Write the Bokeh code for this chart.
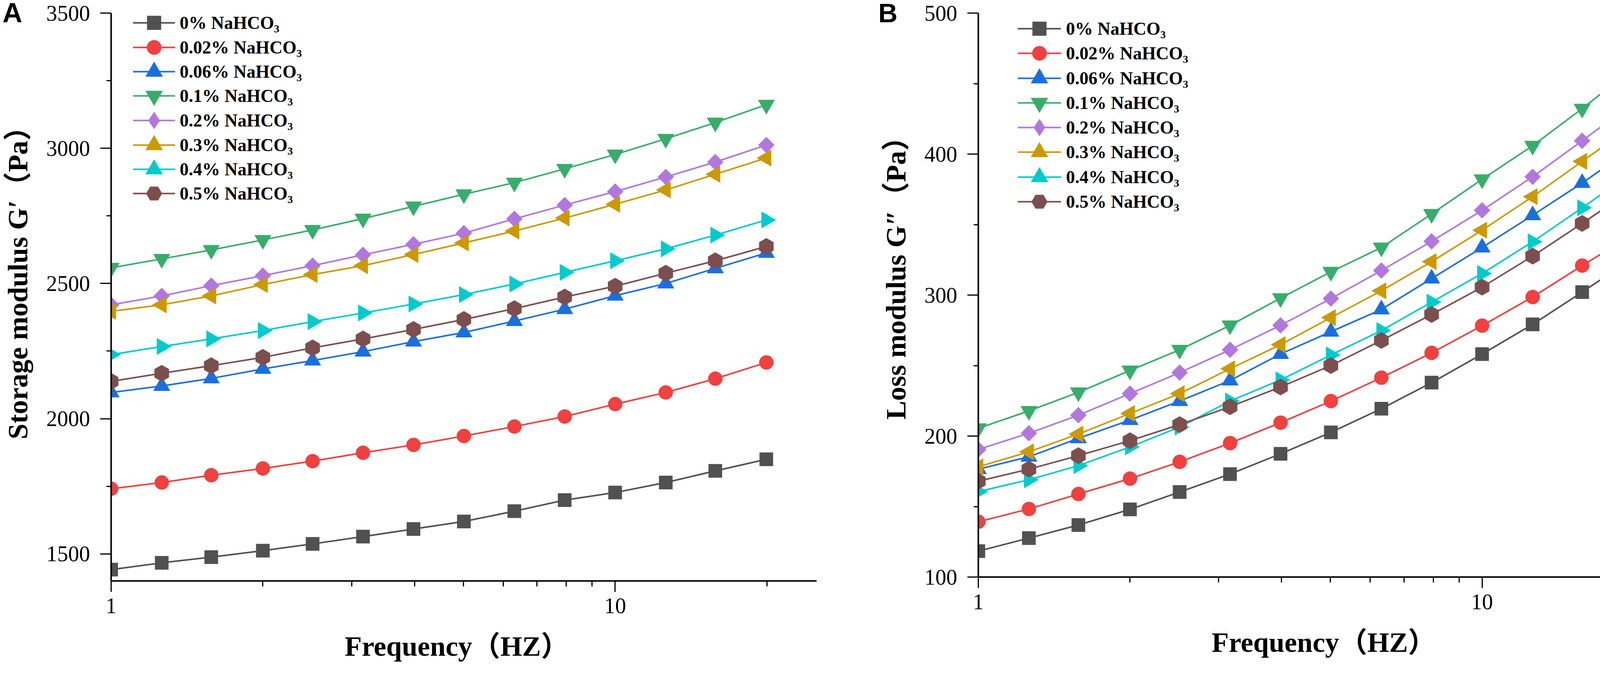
import math
from bokeh.plotting import figure
from bokeh.layouts import row
from bokeh.models import Range1d, FixedTicker, BasicTickFormatter, Legend, LegendItem
from bokeh.embed import file_html
from bokeh.resources import INLINE

# ---------------- data ----------------
freq = [1.0, 1.26, 1.58, 2.0, 2.51, 3.16, 3.98, 5.01, 6.31, 7.94, 10.0, 12.6, 15.8, 19.95]

labels = ["0% NaHCO₃", "0.02% NaHCO₃", "0.06% NaHCO₃", "0.1% NaHCO₃",
          "0.2% NaHCO₃", "0.3% NaHCO₃", "0.4% NaHCO₃", "0.5% NaHCO₃"]

# Panel A: storage modulus G' (Pa)
g1_0    = [1442, 1467, 1488, 1512, 1537, 1564, 1592, 1620, 1658, 1699, 1727, 1764, 1807, 1850]
g1_002  = [1741, 1764, 1791, 1816, 1843, 1874, 1903, 1936, 1971, 2008, 2054, 2097, 2148, 2208]
g1_006  = [2097, 2121, 2149, 2184, 2215, 2248, 2285, 2319, 2361, 2405, 2455, 2500, 2556, 2613]
g1_01   = [2558, 2591, 2624, 2661, 2698, 2740, 2785, 2830, 2873, 2924, 2977, 3035, 3095, 3161]
g1_02   = [2421, 2454, 2492, 2529, 2566, 2606, 2645, 2686, 2739, 2790, 2840, 2894, 2949, 3012]
g1_03   = [2397, 2421, 2454, 2496, 2533, 2566, 2607, 2650, 2694, 2742, 2793, 2846, 2904, 2964]
g1_04   = [2237, 2267, 2295, 2326, 2359, 2391, 2424, 2459, 2498, 2541, 2584, 2628, 2679, 2735]
g1_05   = [2138, 2168, 2196, 2227, 2262, 2295, 2330, 2367, 2407, 2450, 2490, 2538, 2584, 2637]

# Panel B: loss modulus G'' (Pa)
g2_0    = [118.4, 127.6, 136.9, 148.0, 160.3, 173.0, 187.4, 202.6, 219.4, 237.9, 258.1, 279.2, 302.1, 326.2]
g2_002  = [139.2, 148.3, 158.9, 169.8, 181.7, 195.0, 209.5, 224.8, 241.4, 259.0, 278.3, 298.6, 320.9, 343.1]
g2_006  = [176.5, 185.3, 198.4, 211.3, 224.8, 239.4, 258.2, 274.0, 289.8, 311.7, 333.7, 356.6, 379.5, 404.6]
g2_01   = [205.5, 217.8, 231.0, 246.5, 261.2, 278.5, 297.8, 316.5, 333.7, 357.5, 382.1, 405.9, 432.2, 460.9]
g2_02   = [190.5, 202.0, 214.8, 230.1, 245.0, 261.2, 278.5, 297.5, 317.4, 338.1, 360.1, 383.9, 409.4, 436.3]
g2_03   = [178.2, 188.8, 201.4, 216.0, 230.1, 247.7, 264.8, 284.0, 303.0, 323.7, 346.0, 369.8, 394.8, 420.5]
g2_04   = [160.6, 169.0, 179.0, 192.3, 206.4, 224.8, 239.8, 257.5, 274.8, 295.0, 315.3, 337.8, 361.9, 387.1]
g2_05   = [168.0, 176.5, 186.1, 196.7, 208.1, 220.8, 234.8, 250.0, 267.8, 286.2, 305.6, 327.6, 350.8, 375.4]

x_ticks = [1, 10]
x_minor = [2, 3, 4, 5, 6, 7, 8, 9, 20]
yA_ticks = [1500, 2000, 2500, 3000, 3500]
yA_minor = [1750, 2250, 2750, 3250]
yB_ticks = [100, 200, 300, 400, 500]
yB_minor = [150, 250, 350, 450]

x_title = "Frequency（HZ）"
yA_title = "Storage modulus G′（Pa）"
yB_title = "Loss modulus G″（Pa）"

# ---------------- styles ----------------
colors = ["#515151", "#F14040", "#1A6FDF", "#37AD6B", "#B177DE", "#CC9900", "#00CBCC", "#7D4E4E"]
markers = ["square", "circle", "triangle", "inverted_triangle", "square", "triangle", "triangle", "hex"]
angles = [0, 0, 0, 0, math.pi / 4, math.pi / 2, -math.pi / 2, math.pi / 2]
sizes = [34, 36, 42, 42, 29, 42, 42, 42]
# legend glyph box heights (legend marker size = 0.4 * box)
leg_box = [88, 92, 108, 108, 108, 108, 108, 100]

SERIF = "Liberation Serif, Noto Sans CJK SC"


def make_panel(series, y0, y1, yticks, yminor, ylabel, width, height,
               mb_left, mb_right, mb_top, mb_bottom, frame_h,
               leg_x, leg_y0, leg_pitch, glyph_w, standoff,
               letter, letter_size, letter_offset, letter_standoff):
    p = figure(width=width, height=height, x_axis_type="log",
               x_range=Range1d(1, 25.1), y_range=Range1d(y0, y1),
               output_backend="svg", toolbar_location=None,
               min_border_left=mb_left, min_border_right=mb_right,
               min_border_top=mb_top, min_border_bottom=mb_bottom)
    p.outline_line_color = None
    p.xgrid.visible = False
    p.ygrid.visible = False
    p.background_fill_color = "white"
    p.border_fill_color = "white"

    # panel letter, drawn as the (unclipped) plot title pulled down over the corner
    p.title.text = letter
    p.title.text_font = "Liberation Sans"
    p.title.text_font_style = "bold"
    p.title.text_font_size = letter_size
    p.title.text_color = "black"
    p.title.align = "left"
    p.title.vertical_align = "bottom"
    p.title.offset = letter_offset
    p.title.standoff = letter_standoff

    for i, (ys, lab, c, m, a, s) in enumerate(zip(series, labels, colors, markers, angles, sizes)):
        rl = p.line(freq, ys, line_color=c, line_width=4)
        leg_renderers = [rl]
        if i == 4:
            # diamond drawn underneath the rotated squares, used for the legend key
            rd = p.scatter(freq, ys, marker="diamond", size=32, fill_color=c, line_color=c)
            leg_renderers.append(rd)
        rs = p.scatter(freq, ys, marker=m, angle=a, size=s, fill_color=c,
                       line_color=c, line_width=1)
        if i != 4:
            leg_renderers.append(rs)
        bh = leg_box[i]
        center = leg_y0 + i * leg_pitch          # distance of row centre below frame top
        vy = frame_h - (center + bh / 2.0)
        lg = Legend(items=[LegendItem(label=lab, renderers=leg_renderers)],
                    location=(leg_x, int(round(vy))), padding=0, margin=0,
                    glyph_width=glyph_w, glyph_height=bh, label_height=bh,
                    label_standoff=standoff, border_line_color=None,
                    background_fill_alpha=0, label_text_font=SERIF,
                    label_text_font_style="bold", label_text_font_size="46px",
                    label_text_color="black")
        p.add_layout(lg)

    xa = p.xaxis[0]
    xa.ticker = FixedTicker(ticks=x_ticks, minor_ticks=x_minor)
    xa.formatter = BasicTickFormatter()
    xa.axis_label = x_title + "\u2002"
    ya = p.yaxis[0]
    ya.ticker = FixedTicker(ticks=yticks, minor_ticks=yminor)
    ya.axis_label = ylabel

    for ax in (xa, ya):
        ax.axis_line_width = 4
        ax.axis_line_color = "black"
        ax.major_tick_line_width = 3
        ax.minor_tick_line_width = 3
        ax.major_tick_in = 0
        ax.minor_tick_in = 0
        ax.major_label_text_font = SERIF
        ax.major_label_text_font_size = "56px"
        ax.major_label_text_color = "black"
        ax.axis_label_text_font = SERIF
        ax.axis_label_text_font_style = "bold"
        ax.axis_label_text_font_size = "72px"
        ax.axis_label_text_color = "black"
    xa.major_tick_out = 28
    xa.minor_tick_out = 14
    xa.major_label_standoff = 16
    xa.axis_label_standoff = 42
    ya.major_tick_out = 28
    ya.minor_tick_out = 12
    ya.major_label_standoff = 26
    ya.axis_label_standoff = 30
    return p


seriesA = [g1_0, g1_002, g1_006, g1_01, g1_02, g1_03, g1_04, g1_05]
seriesB = [g2_0, g2_002, g2_006, g2_01, g2_02, g2_03, g2_04, g2_05]

# the row is lifted by the body margin (margin -8 at the top), so the canvases start
# at the page top; frames stay at page y = 40 / 41.
# leading spaces lift the rotated titles above the frame centre, as in the original
pA = make_panel(seriesA, 1400, 3500, yA_ticks, yA_minor, "\u2003\u2002" + yA_title,
                width=2244, height=1727, mb_left=284, mb_right=154, mb_top=40, mb_bottom=232,
                frame_h=1455, leg_x=56, leg_y0=26, leg_pitch=62.5, glyph_w=108, standoff=12,
                letter="A", letter_size="70px", letter_offset=-278, letter_standoff=-76)

pB = make_panel(seriesB, 100, 500, yB_ticks, yB_minor, "\u2003\u2002\u2009" + yB_title,
                width=2068, height=1717, mb_left=260, mb_right=3, mb_top=41, mb_bottom=232,
                frame_h=1444, leg_x=101, leg_y0=40, leg_pitch=63.3, glyph_w=111, standoff=13,
                letter="B", letter_size="68px", letter_offset=-256, letter_standoff=-74)

layout = row(pA, pB, margin=(-8, 0, 0, 0))
open("out.html", "w").write(file_html(layout, INLINE))
